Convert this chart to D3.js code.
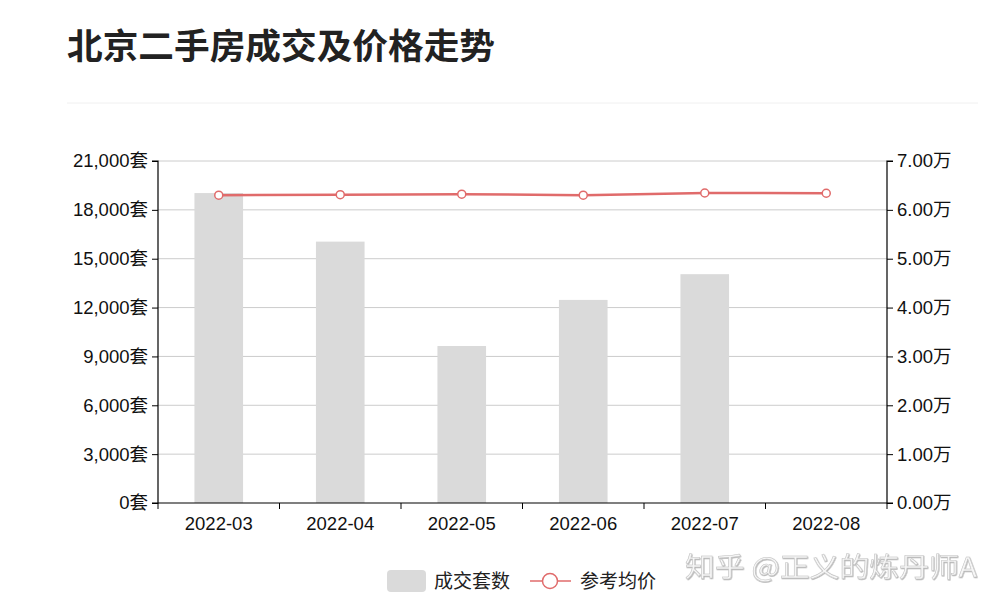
<!DOCTYPE html>
<html>
<head>
<meta charset="utf-8">
<script src="https://cdn.jsdelivr.net/npm/d3@7"></script>
<style>
  body { margin: 0; background: #fff; }
  text { font-family: "Liberation Sans", Arial, "Noto Sans CJK SC", sans-serif; }
</style>
</head>
<body>
<svg id="chart" width="1004" height="608"></svg>
<script>
// values
const months = ['2022-03', '2022-04', '2022-05', '2022-06', '2022-07', '2022-08'];
const deals = [19030, 16050, 9640, 12470, 14050, null];   // 成交套数, 08 has no bar
const price = [6.30, 6.31, 6.32, 6.30, 6.345, 6.34];       // 参考均价 (万)
const leftTicks = [0, 3000, 6000, 9000, 12000, 15000, 18000, 21000];
const rightTicks = [0, 1, 2, 3, 4, 5, 6, 7];

const svg = d3.select('#chart');
const cjk = '"Noto Sans CJK SC", sans-serif';
const m = {left: 158, right: 887, top: 161, bottom: 503};

// title + divider
svg.append('text')
    .attr('x', 67).attr('y', 59)
    .attr('font-size', 35).attr('font-weight', 'bold')
    .attr('textLength', 428).attr('lengthAdjust', 'spacingAndGlyphs')
    .attr('fill', '#222')
    .style('font-family', cjk)
    .text('北京二手房成交及价格走势');
svg.append('line')
    .attr('x1', 67).attr('x2', 978).attr('y1', 103).attr('y2', 103)
    .attr('stroke', '#f0f0f0');

const x = d3.scaleBand().domain(months).range([m.left, m.right]);
const yL = d3.scaleLinear().domain([0, 21000]).range([m.bottom, m.top]);
const yR = d3.scaleLinear().domain([0, 7]).range([m.bottom, m.top]);

// grid
svg.append('g').selectAll('line').data(leftTicks.slice(1)).join('line')
    .attr('x1', m.left).attr('x2', m.right)
    .attr('y1', d => yL(d)).attr('y2', d => yL(d))
    .attr('stroke', '#cccccc').attr('stroke-width', 1);

// bars
const bw = x.bandwidth() * 0.4;
svg.append('g').selectAll('rect').data(months.map((d, i) => ({m: d, v: deals[i]})).filter(d => d.v != null))
    .join('rect')
    .attr('x', d => x(d.m) + (x.bandwidth() - bw) / 2)
    .attr('width', bw)
    .attr('y', d => yL(d.v))
    .attr('height', d => yL(0) - yL(d.v))
    .attr('fill', '#dadada');

// axes
const fmt = d3.format(',');
const gL = svg.append('g').attr('transform', `translate(${m.left},0)`)
    .call(d3.axisLeft(yL).tickValues(leftTicks).tickSize(6).tickPadding(4).tickFormat(d => fmt(d) + '套'));
const gR = svg.append('g').attr('transform', `translate(${m.right},0)`)
    .call(d3.axisRight(yR).tickValues(rightTicks).tickSize(6).tickPadding(4).tickFormat(d => d.toFixed(2) + '万'));
const gB = svg.append('g').attr('transform', `translate(0,${m.bottom})`)
    .call(d3.axisBottom(x).tickSize(0).tickPadding(14));
// band boundary ticks on the bottom axis
gB.selectAll('.bnd').data(months.slice(1).concat(['end'])).join('line')
    .attr('class', 'bnd')
    .attr('x1', d => d === 'end' ? m.right : x(d))
    .attr('x2', d => d === 'end' ? m.right : x(d))
    .attr('y1', 0).attr('y2', 6)
    .attr('stroke', '#000');
gB.append('line').attr('x1', m.left).attr('x2', m.left).attr('y1', 0).attr('y2', 6).attr('stroke', '#000');

[gL, gR, gB].forEach(g => {
    g.select('.domain').attr('stroke', '#000').attr('stroke-width', 1.2);
    g.selectAll('.tick line').attr('stroke', '#000');
    g.selectAll('text').attr('font-size', 18.5).attr('fill', '#111')
        .style('font-family', '"Liberation Sans", Arial, "Noto Sans CJK SC", sans-serif');
});
gL.select('.domain').attr('d', `M-6,${m.top}H0V${m.bottom}H-6`);
gR.select('.domain').attr('d', `M6,${m.top}H0V${m.bottom}H6`);
gB.select('.domain').attr('d', `M${m.left},0H${m.right}`);

// price line
const cx = d => x(d) + x.bandwidth() / 2;
const pts = months.map((d, i) => [cx(d), yR(price[i])]);
svg.append('path')
    .attr('d', d3.line()(pts))
    .attr('fill', 'none').attr('stroke', '#e06b6b').attr('stroke-width', 2.5);
svg.append('g').selectAll('circle').data(pts).join('circle')
    .attr('cx', d => d[0]).attr('cy', d => d[1]).attr('r', 4)
    .attr('fill', '#fff').attr('stroke', '#e06b6b').attr('stroke-width', 1.5);

// legend
const lg = svg.append('g');
lg.append('rect').attr('x', 387).attr('y', 570).attr('width', 39).attr('height', 22).attr('rx', 4)
    .attr('fill', '#dadada');
lg.append('text').attr('x', 434).attr('y', 588).attr('font-size', 19).attr('fill', '#222')
    .style('font-family', cjk).text('成交套数');
lg.append('line').attr('x1', 530).attr('x2', 571).attr('y1', 581).attr('y2', 581)
    .attr('stroke', '#e06b6b').attr('stroke-width', 1.5);
lg.append('circle').attr('cx', 550).attr('cy', 581).attr('r', 7.5)
    .attr('fill', '#fff').attr('stroke', '#e06b6b').attr('stroke-width', 1.5);
lg.append('text').attr('x', 580).attr('y', 588).attr('font-size', 19).attr('fill', '#222')
    .style('font-family', cjk).text('参考均价');

// watermark
const defs = svg.append('defs');
defs.append('filter').attr('id', 'sh')
    .append('feDropShadow').attr('dx', 0.6).attr('dy', 0.8).attr('stdDeviation', 0.6)
    .attr('flood-color', '#888').attr('flood-opacity', 0.7);
svg.append('text').attr('x', 685).attr('y', 577).attr('font-size', 27)
    .attr('textLength', 292).attr('lengthAdjust', 'spacingAndGlyphs')
    .attr('fill', '#f6f6f6').attr('stroke', '#c4c4c4').attr('stroke-width', 0.5)
    .attr('filter', 'url(#sh)')
    .style('font-family', cjk)
    .text('知乎 @正义的炼丹师A');
</script>
</body>
</html>
